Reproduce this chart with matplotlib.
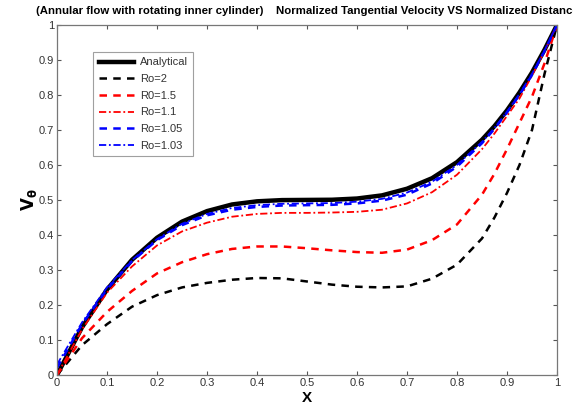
import numpy as np
import matplotlib
matplotlib.use('Agg')
import matplotlib.pyplot as plt

plt.rcParams['font.family'] = ['Liberation Sans', 'DejaVu Sans']

# x positions (normalized distance)
x = [0, 0.05, 0.1, 0.15, 0.2, 0.25, 0.3, 0.35, 0.4, 0.45, 0.5, 0.55, 0.6,
     0.65, 0.7, 0.75, 0.8, 0.85, 0.875, 0.9, 0.925, 0.95, 0.975, 1.0]

# values
v_analytical = [0, 0.136, 0.244, 0.329, 0.392, 0.438, 0.468, 0.487, 0.496, 0.4995, 0.5, 0.5005, 0.504,
                0.513, 0.532, 0.562, 0.608, 0.672, 0.711, 0.756, 0.807, 0.864, 0.929, 1.0]
v_ro2 = [0, 0.085, 0.145, 0.195, 0.228, 0.25, 0.263, 0.272, 0.277, 0.276, 0.267, 0.258, 0.252,
         0.25, 0.253, 0.275, 0.315, 0.39, 0.45, 0.52, 0.60, 0.70, 0.86, 1.0]
v_ro15 = [0, 0.105, 0.18, 0.24, 0.29, 0.322, 0.345, 0.36, 0.367, 0.367, 0.362, 0.356, 0.351,
          0.349, 0.358, 0.385, 0.43, 0.515, 0.575, 0.645, 0.72, 0.795, 0.89, 1.0]
v_ro11 = [0, 0.13, 0.235, 0.31, 0.37, 0.41, 0.435, 0.452, 0.46, 0.463, 0.463, 0.464, 0.466,
          0.472, 0.49, 0.522, 0.572, 0.645, 0.69, 0.74, 0.79, 0.855, 0.925, 1.0]
v_ro105 = [0.02, 0.145, 0.245, 0.325, 0.385, 0.428, 0.456, 0.472, 0.48, 0.484, 0.485, 0.486, 0.49,
           0.498, 0.515, 0.547, 0.595, 0.662, 0.703, 0.75, 0.8, 0.857, 0.925, 1.0]
v_ro103 = [0.03, 0.15, 0.25, 0.328, 0.388, 0.432, 0.46, 0.477, 0.485, 0.489, 0.49, 0.491, 0.495,
           0.503, 0.521, 0.552, 0.6, 0.666, 0.706, 0.752, 0.803, 0.86, 0.927, 1.0]

fig = plt.figure(figsize=(5.73, 4.08), dpi=100)
ax = fig.add_axes([0.0995, 0.081, 0.8726, 0.858])

ax.plot(x, v_analytical, color='black', lw=3.2, label='Analytical')
ax.plot(x, v_ro2, color='black', lw=1.8, ls=(0, (3, 2.5)), label='Ro=2')
ax.plot(x, v_ro15, color='red', lw=1.8, ls=(0, (3, 2.5)), label='R0=1.5')
ax.plot(x, v_ro11, color='red', lw=1.3, ls=(0, (4, 1.5, 1, 1.5)), label='Ro=1.1')
ax.plot(x, v_ro105, color='blue', lw=1.8, ls=(0, (3, 2.5)), label='Ro=1.05')
ax.plot(x, v_ro103, color='blue', lw=1.3, ls=(0, (4, 1.5, 1, 1.5)), label='Ro=1.03')

ax.set_xlim(0, 1)
ax.set_ylim(0, 1)
ticks = np.round(np.arange(0, 1.01, 0.1), 1)
labels = ['0'] + ['%.1f' % t for t in ticks[1:-1]] + ['1']
ax.set_xticks(ticks)
ax.set_xticklabels(labels)
ax.set_yticks(ticks)
ax.set_yticklabels(labels)
ax.tick_params(direction='in', top=True, right=True, length=3, width=0.8,
               labelsize=8, colors='#555555', labelcolor='#333333', pad=2)
for s in ax.spines.values():
    s.set_color('#777777')
    s.set_linewidth(0.9)

ax.set_xlabel('X', fontsize=11, fontweight='bold', labelpad=2)
ax.set_ylabel(r'$\mathbf{V_\theta}$', fontsize=12, labelpad=0)
ax.set_title('(Annular flow with rotating inner cylinder)    Normalized Tangential Velocity VS Normalized Distance',
             fontsize=8.2, fontweight='bold', pad=8)

leg = ax.legend(loc='upper left', bbox_to_anchor=(0.072, 0.923), fontsize=8,
                handlelength=3.2, labelspacing=0.6, borderpad=0.5, handletextpad=0.5,
                frameon=True, fancybox=False, borderaxespad=0)
leg.get_frame().set_edgecolor('#888888')
leg.get_frame().set_linewidth(0.8)
for t in leg.get_texts():
    t.set_color('#333333')

fig.savefig('out.png', dpi=100)
